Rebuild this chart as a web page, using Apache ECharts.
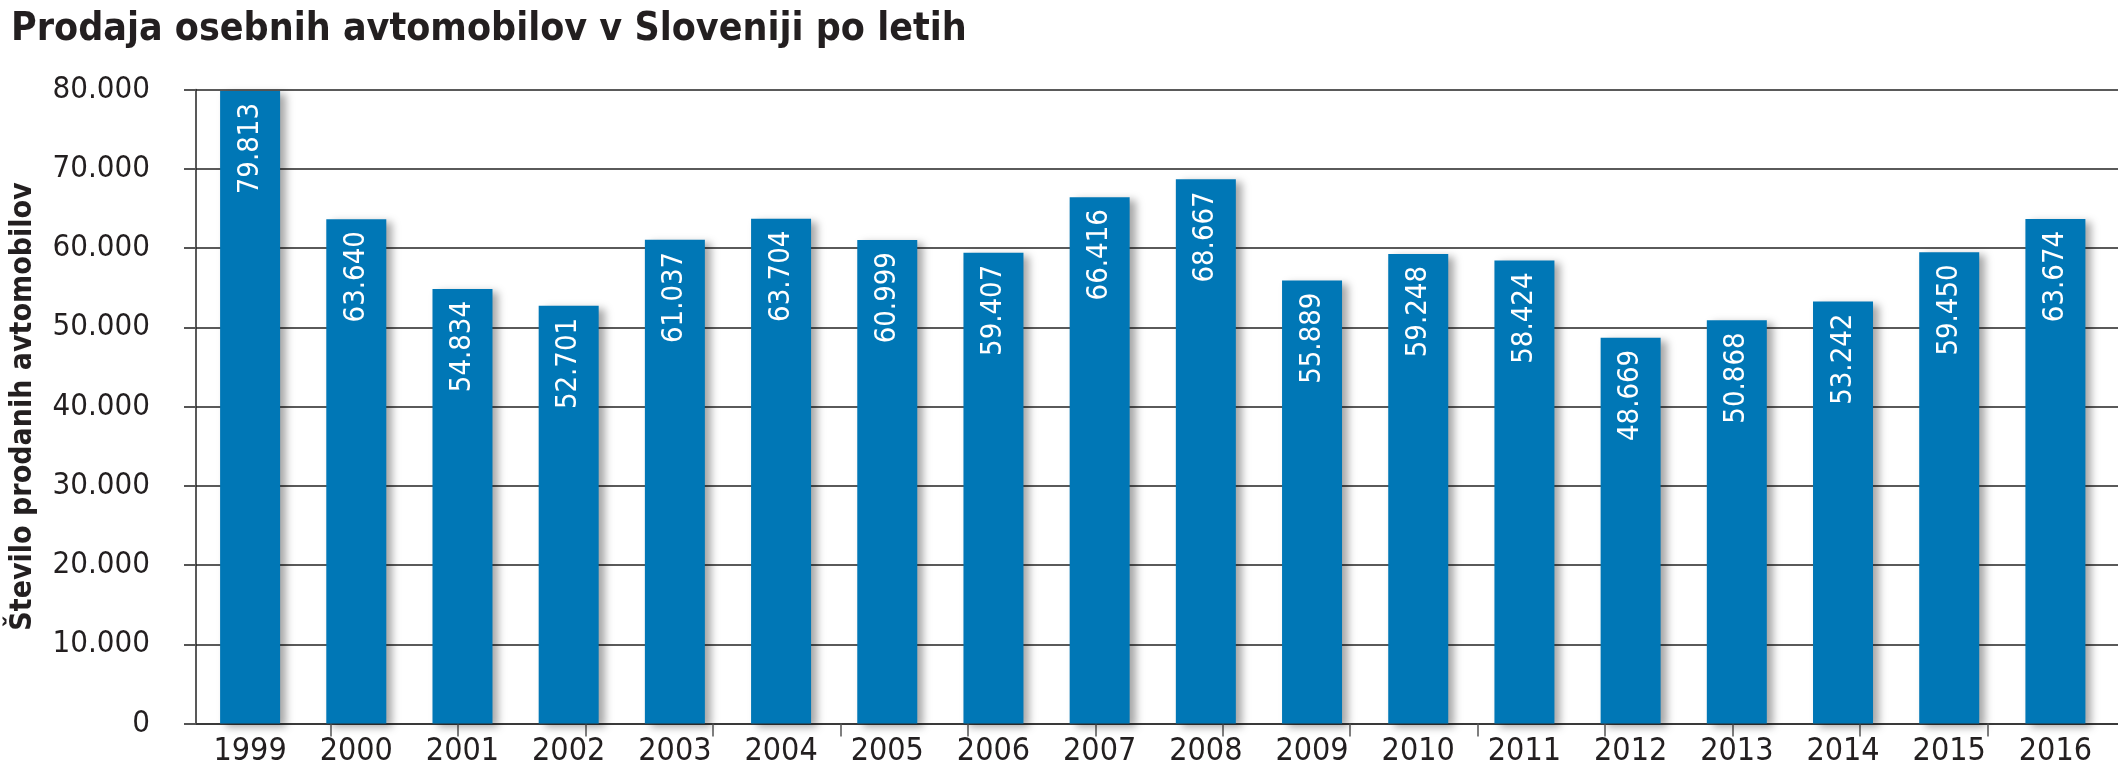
<!DOCTYPE html>
<html>
<head>
<meta charset="utf-8">
<script src="https://cdn.jsdelivr.net/npm/echarts@6/dist/echarts.min.js"></script>
<style>
html,body{margin:0;padding:0;background:#fff;}
#c{width:2118px;height:782px;}
</style>
</head>
<body>
<div id="c"></div>
<script>
const titleText = 'Prodaja osebnih avtomobilov v Sloveniji po letih';
const yAxisName = 'Število prodanih avtomobilov';
const years = ['1999','2000','2001','2002','2003','2004','2005','2006','2007','2008','2009','2010','2011','2012','2013','2014','2015','2016'];
const sales = [79813, 63640, 54834, 52701, 61037, 63704, 60999, 59407, 66416, 68667, 55889, 59248, 58424, 48669, 50868, 53242, 59450, 63674];
const yTicks = [0, 10000, 20000, 30000, 40000, 50000, 60000, 70000, 80000];

const FONT = "'Liberation Sans Narrow', 'DejaVu Sans Condensed', 'Noto Sans', sans-serif";
const TXT = '#231f20';
const fmt = v => String(v).replace(/\B(?=(\d{3})+(?!\d))/g, '.');

// decorative (non-data) tick marks along the bottom axis, as in the original graphic
const tickStep = 128.2, tickStart = 7;
const bottomTicks = [];
for (let k = 1; k <= 14; k++) bottomTicks.push(tickStart + k * tickStep);

const TOP = 89.5, BOTTOM = 782 - 723.5;

const chart = echarts.init(document.getElementById('c'), null, {renderer: 'canvas'});
chart.setOption({
  animation: false,
  backgroundColor: '#fff',
  title: {
    text: titleText,
    left: 6, top: 5,
    textStyle: {fontFamily: FONT, fontWeight: 'bold', fontSize: 39, color: TXT}
  },
  grid: [
    {left: 185, right: 0, top: TOP, bottom: BOTTOM, containLabel: false},
    {left: 197, right: 9.5, top: TOP, bottom: BOTTOM, containLabel: false}
  ],
  xAxis: [
    {
      gridIndex: 0, type: 'value', min: 0, max: 1933,
      axisLine: {show: true, lineStyle: {color: '#3a3a3a', width: 2}},
      axisTick: {show: true, customValues: bottomTicks, length: 13, lineStyle: {color: '#555', width: 1.5}},
      axisLabel: {show: false},
      splitLine: {show: false}
    },
    {
      gridIndex: 1, type: 'category', data: years,
      axisLine: {show: false}, axisTick: {show: false},
      axisLabel: {margin: 12, fontFamily: FONT, fontSize: 32, color: TXT}
    }
  ],
  yAxis: [
    {
      gridIndex: 0, type: 'value', min: 0, max: 80000, interval: 10000,
      name: yAxisName, nameLocation: 'middle', nameGap: 158,
      nameTextStyle: {fontFamily: FONT, fontWeight: 'bold', fontSize: 30, color: TXT},
      axisLine: {show: true, lineStyle: {color: '#222', width: 1.5}},
      axisTick: {show: true, length: 12, lineStyle: {color: '#555', width: 2}},
      axisLabel: {margin: 46, fontFamily: FONT, fontSize: 31, color: TXT,
        customValues: yTicks, formatter: v => fmt(v)},
      splitLine: {show: true, lineStyle: {color: '#5a5a5a', width: 2}}
    },
    {gridIndex: 1, type: 'value', min: 0, max: 80000, show: false}
  ],
  series: [{
    type: 'bar', xAxisIndex: 1, yAxisIndex: 1,
    data: sales, barWidth: 60,
    itemStyle: {color: '#0077b6', shadowColor: 'rgba(0,0,0,0.35)', shadowBlur: 8, shadowOffsetX: 6, shadowOffsetY: 3},
    label: {
      show: true, position: 'insideTop', distance: 12, rotate: 90,
      align: 'right', verticalAlign: 'middle',
      fontFamily: FONT, fontSize: 29, color: '#fff',
      formatter: p => fmt(p.value)
    }
  }]
});
</script>
</body>
</html>
